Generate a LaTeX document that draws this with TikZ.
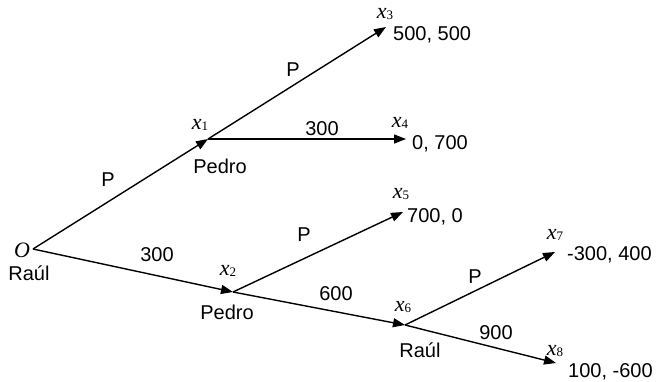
\documentclass[tikz,border=0pt]{standalone}
\usepackage{fontspec}
\setmainfont{Liberation Sans}
\newfontfamily\tnr{Liberation Serif}
\usetikzlibrary{arrows.meta}
\newcommand{\xlab}[1]{{\tnr\fontsize{22}{22}\selectfont\itshape x}\raisebox{-0.25ex}{\tnr\fontsize{13}{13}\selectfont #1}}
\tikzset{
  branch/.style={line width=1.4pt},
  arr/.style={branch,-{Triangle[length=12pt,width=9pt]}},
  txt/.style={inner sep=0pt,font=\fontsize{20}{20}\selectfont},
  pay/.style={txt,anchor=base west},
  xl/.style={inner sep=0pt,anchor=base}
}
\begin{document}
\begin{tikzpicture}[x=1pt,y=-1pt]
\useasboundingbox (0,0) rectangle (656,381);
% decision nodes and terminals
\coordinate (O) at (33,249);
\coordinate (x1) at (208,139);
\coordinate (x2) at (233,292);
\coordinate (x6) at (405,325);
\coordinate (x3) at (386,27);
\coordinate (x4) at (406,139);
\coordinate (x5) at (403,212);
\coordinate (x7) at (555,252);
\coordinate (x8) at (556,363);
% branches
\draw[arr] (O) -- (x1);
\draw[arr] (O) -- (x2);
\draw[arr] (x1) -- (x3);
\draw[arr] (x1) -- (x4);
\draw[arr] (x2) -- (x5);
\draw[arr] (x2) -- (x6);
\draw[arr] (x6) -- (x7);
\draw[arr] (x6) -- (x8);
% node names
\node[inner sep=0pt] (lO) at (22,250) {\tnr\fontsize{22}{22}\selectfont\itshape O};
\node[xl] (l1) at (200,129) {\xlab{1}};
\node[xl] (l2) at (228,275) {\xlab{2}};
\node[xl] (l3) at (385,18) {\xlab{3}};
\node[xl] (l4) at (400,127) {\xlab{4}};
\node[xl] (l5) at (401,198) {\xlab{5}};
\node[xl] (l6) at (403,311) {\xlab{6}};
\node[xl] (l7) at (555,239) {\xlab{7}};
\node[xl] (l8) at (555,355) {\xlab{8}};
% players
\node[txt] (pO) at (29,273) {Raúl};
\node[txt] (p1) at (220,166) {Pedro};
\node[txt] (p2) at (227,312) {Pedro};
\node[txt] (p6) at (420,350) {Raúl};
% actions
\node[txt] (a1) at (108,180) {P};
\node[txt] (a2) at (157,255) {300};
\node[txt] (a3) at (293,70) {P};
\node[txt] (a4) at (322,129) {300};
\node[txt] (a5) at (304,235) {P};
\node[txt] (a6) at (336,294) {600};
\node[txt] (a7) at (475,277) {P};
\node[txt] (a8) at (496,333) {900};
% payoffs
\node[pay] (v3) at (393,40) {500, 500};
\node[pay] (v4) at (412,149) {0, 700};
\node[pay] (v5) at (407,222) {700, 0};
\node[pay] (v7) at (567,260) {-300, 400};
\node[pay] (v8) at (568,377) {100, -600};
\end{tikzpicture}
\end{document}
